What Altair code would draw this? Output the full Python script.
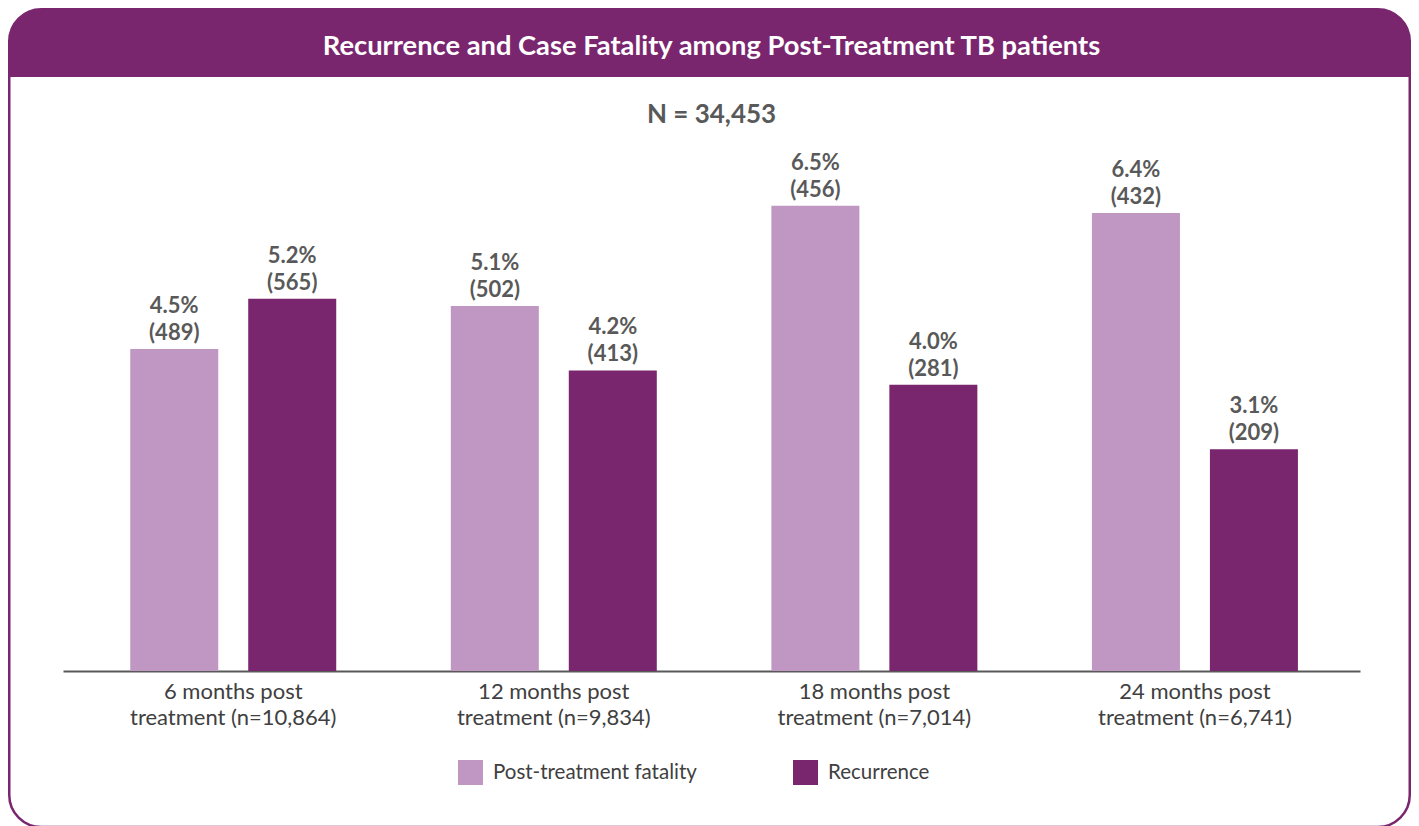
import altair as alt
import pandas as pd

# ---- data ----
periods = [
    "6 months post treatment (n=10,864)",
    "12 months post treatment (n=9,834)",
    "18 months post treatment (n=7,014)",
    "24 months post treatment (n=6,741)",
]
series = ["Post-treatment fatality", "Recurrence"]
fatality_pct = [4.5, 5.1, 6.5, 6.4]
fatality_n = [489, 502, 456, 432]
recurrence_pct = [5.2, 4.2, 4.0, 3.1]
recurrence_n = [565, 413, 281, 209]

title_text = "Recurrence and Case Fatality among Post-Treatment TB patients"
subtitle_text = "N = 34,453"

LIGHT = "#BF97C2"
DARK = "#7A266F"
GREY = "#595959"
TXT = "#404040"
FONT = "Lato"

rows = []
for i, p in enumerate(periods):
    rows.append({"period": p, "series": series[0], "pct": fatality_pct[i], "n": fatality_n[i]})
    rows.append({"period": p, "series": series[1], "pct": recurrence_pct[i], "n": recurrence_n[i]})
df = pd.DataFrame(rows)
df["label"] = df.apply(lambda r: f"{r.pct:.1f}%\n({r.n})", axis=1)

W, H = 1297, 501
PAD = {"left": 55, "right": 51, "top": 162, "bottom": 155}

one = alt.Data(values=[{}])

header = alt.Chart(one).mark_rect(
    color=DARK, cornerRadiusTopLeft=32, cornerRadiusTopRight=32
).encode(
    x=alt.value(-54), x2=alt.value(W + 50),
    y=alt.value(-161), y2=alt.value(-93),
)

frame = alt.Chart(one).mark_rect(
    color=DARK, filled=False, strokeWidth=2.5, cornerRadius=32
).encode(
    x=alt.value(-53.75), x2=alt.value(W + 49.75),
    y=alt.value(-160.75), y2=alt.value(H + 156),
)

title = alt.Chart(alt.Data(values=[{"t": title_text}])).mark_text(
    font=FONT, fontSize=27.3, fontWeight="bold", color="white",
    align="center", baseline="middle",
).encode(x=alt.value(W / 2), y=alt.value(-123), text="t:N")

subtitle = alt.Chart(alt.Data(values=[{"t": subtitle_text}])).mark_text(
    font=FONT, fontSize=26, fontWeight="bold", color=GREY,
    align="center", baseline="middle",
).encode(x=alt.value(W / 2), y=alt.value(-55), text="t:N")

label_expr = ("[slice(datum.label, 0, indexof(datum.label, ' treatment')), "
              "slice(datum.label, indexof(datum.label, ' treatment') + 1)]")

x_enc = alt.X(
    "period:N", sort=periods,
    scale=alt.Scale(paddingInner=0.3574, paddingOuter=0.2017, align=0.52),
    axis=alt.Axis(
        title=None, labelAngle=0, ticks=False, grid=False,
        domainColor=GREY, domainWidth=2,
        labelFont=FONT, labelFontSize=22, labelColor=TXT,
        labelPadding=10, labelLineHeight=26, labelLimit=400,
        labelOverlap=False, labelExpr=label_expr,
    ),
)
xo_enc = alt.XOffset("series:N", sort=series, scale=alt.Scale(paddingInner=0.254))
y_enc = alt.Y("pct:Q", scale=alt.Scale(domain=[0, 7], nice=False), axis=None)

bars = alt.Chart(df).mark_bar().encode(
    x=x_enc, xOffset=xo_enc, y=y_enc,
    color=alt.Color(
        "series:N", sort=series,
        scale=alt.Scale(domain=series, range=[LIGHT, DARK]),
        legend=alt.Legend(
            title=None, orient="none", direction="horizontal",
            legendX=395, legendY=590, padding=0,
            symbolType="square", symbolSize=625, symbolStrokeWidth=0,
            labelFont=FONT, labelFontSize=20.5, labelColor=TXT,
            labelOffset=10, labelLimit=400, columnPadding=96,
        ),
    ),
)

labels = alt.Chart(df).mark_text(
    baseline="alphabetic", dy=-36, lineBreak="\n", lineHeight=27,
    font=FONT, fontSize=22, fontWeight="bold", color=GREY,
).encode(x=x_enc, xOffset=xo_enc, y=y_enc, text="label:N")

chart = alt.layer(header, frame, title, subtitle, bars, labels).properties(
    width=W, height=H,
    autosize=alt.AutoSizeParams(type="none"),
    padding=PAD,
    background="white",
).configure_view(stroke=None)

chart.save("out.html", embed_options={"renderer": "svg", "actions": False})
